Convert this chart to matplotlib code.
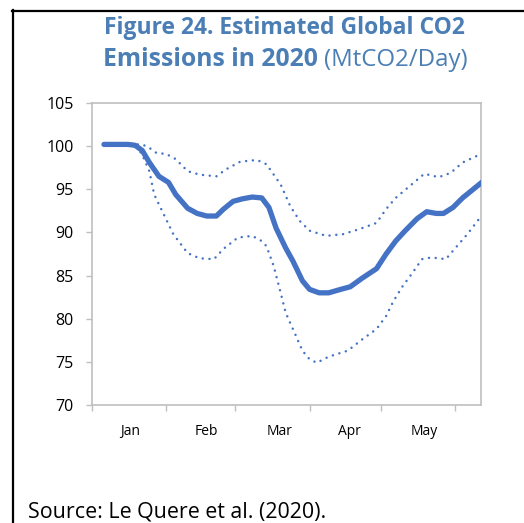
import matplotlib
matplotlib.use("Agg")
import matplotlib.pyplot as plt
from matplotlib.lines import Line2D

plt.rcParams['font.family'] = ['Open Sans', 'DejaVu Sans']

# Day of year (0 = Jan 1) and daily emissions, MtCO2/day
central_days = [5, 10, 15, 18, 21, 24, 28, 32, 35, 40, 44, 48, 52, 55, 59, 63, 67, 71,
                74, 77, 81, 84, 88, 91, 95, 99, 104, 108, 113, 119, 123, 127, 131, 136,
                140, 144, 147, 151, 155, 159, 163]
central_vals = [100.2, 100.2, 100.2, 100.1, 99.5, 98.1, 96.5, 95.8, 94.4, 92.8, 92.2, 91.9,
                91.9, 92.7, 93.6, 93.9, 94.1, 94.0, 92.9, 90.5, 88.2, 86.7, 84.4, 83.4, 83.0,
                83.0, 83.4, 83.7, 84.7, 85.8, 87.5, 89.0, 90.2, 91.6, 92.4, 92.2, 92.2, 92.9,
                94.0, 94.9, 95.8]

upper_days = [5, 18, 21, 24, 27, 31, 35, 40, 45, 52, 56, 62, 69, 73, 75, 79, 83, 87, 91,
              98, 105, 112, 119, 123, 127, 133, 139, 145, 150, 155, 162]
upper_vals = [100.2, 100.2, 100.2, 99.8, 99.2, 99.1, 98.5, 97.1, 96.7, 96.5, 97.3, 98.2, 98.4,
              97.9, 97.1, 95.5, 93.0, 91.3, 90.2, 89.6, 89.8, 90.4, 91.1, 92.7, 94.0, 95.4,
              96.8, 96.4, 96.9, 98.1, 99.0]

lower_days = [5, 18, 21, 24, 26, 30, 34, 40, 45, 51, 55, 61, 67, 71, 73, 76, 79, 81, 85, 88,
              91, 94, 99, 107, 113, 119, 123, 126, 130, 134, 138, 142, 148, 152, 157, 162]
lower_vals = [100.2, 100.2, 99.0, 97.1, 94.4, 92.1, 89.8, 87.6, 87.0, 86.9, 88.1, 89.4, 89.6,
              89.0, 88.4, 86.1, 82.9, 80.7, 78.2, 76.3, 75.3, 74.9, 75.6, 76.3, 77.6, 78.8,
              80.3, 82.0, 83.8, 85.3, 86.9, 87.1, 86.9, 88.2, 89.8, 91.6]

month_starts = [0, 31, 60, 91, 121, 152]
month_names = ['Jan', 'Feb', 'Mar', 'Apr', 'May']
month_label_pos = [15.9, 47.7, 78.6, 107.5, 138.8]
y_ticks = [70, 75, 80, 85, 90, 95, 100, 105]

BLUE = '#4472C4'
TITLE = '#4A7EB5'
GRID = '#BFBFBF'

W, H = 524, 523
fig = plt.figure(figsize=(W / 100, H / 100), dpi=100)
ax = fig.add_axes([92 / W, 1 - 405 / H, (481 - 92) / W, (405 - 103) / H])

dots = dict(color=BLUE, lw=1.8, linestyle=(0, (0.01, 2.7)), dash_capstyle='round')
ax.plot(upper_days, upper_vals, **dots, zorder=2)
ax.plot(lower_days, lower_vals, **dots, zorder=2)
ax.plot(central_days, central_vals, color=BLUE, lw=3.8, solid_capstyle='round',
        solid_joinstyle='round', zorder=3)

ax.set_xlim(0, 162.7)
ax.set_ylim(70, 105)
ax.set_yticks(y_ticks)
ax.set_yticklabels([str(v) for v in y_ticks], fontsize=11.5, color='#000000')
ax.set_xticks(month_starts)
ax.set_xticklabels([])
ax.set_xticks(month_label_pos, minor=True)
ax.set_xticklabels(month_names, minor=True, fontsize=10, color='#000000')
ax.tick_params(axis='x', which='major', length=4, width=1, color=GRID, direction='out')
ax.tick_params(axis='x', which='minor', length=0, pad=14)
ax.tick_params(axis='y', length=4, width=1, color=GRID, pad=9)
for s in ax.spines.values():
    s.set_color(GRID)
    s.set_linewidth(1.2)

# Title: bold first line, mixed bold/regular second line
fig.text(284 / W, 1 - 28 / H, 'Figure 24. Estimated Global CO2', ha='center', va='center',
         fontsize=16.5, fontweight='bold', color=TITLE)
fig.canvas.draw()
r = fig.canvas.get_renderer()
t1 = fig.text(0, 1 - 60 / H, 'Emissions in 2020 ', ha='left', va='center',
              fontsize=17.8, fontweight='bold', color=TITLE)
t2 = fig.text(0, 1 - 60 / H, '(MtCO2/Day)', ha='left', va='center',
              fontsize=17.3, color=TITLE)
w1 = t1.get_window_extent(r).width
w2 = t2.get_window_extent(r).width
x0 = 285 - (w1 + w2) / 2
t1.set_x(x0 / W)
t2.set_x((x0 + w1) / W)

fig.text(28 / W, 1 - 512 / H, 'Source: Le Quere et al. (2020).', ha='left', va='center',
         fontsize=15.4, color='#000000')

# Frame around the figure
fig.add_artist(Line2D([12 / W, 1], [1 - 11 / H, 1 - 11 / H], color='black', lw=1.6,
                      transform=fig.transFigure))
fig.add_artist(Line2D([13 / W, 13 / W], [0, 1 - 10 / H], color='black', lw=1.6,
                      transform=fig.transFigure))

fig.savefig('out.png', dpi=100)
